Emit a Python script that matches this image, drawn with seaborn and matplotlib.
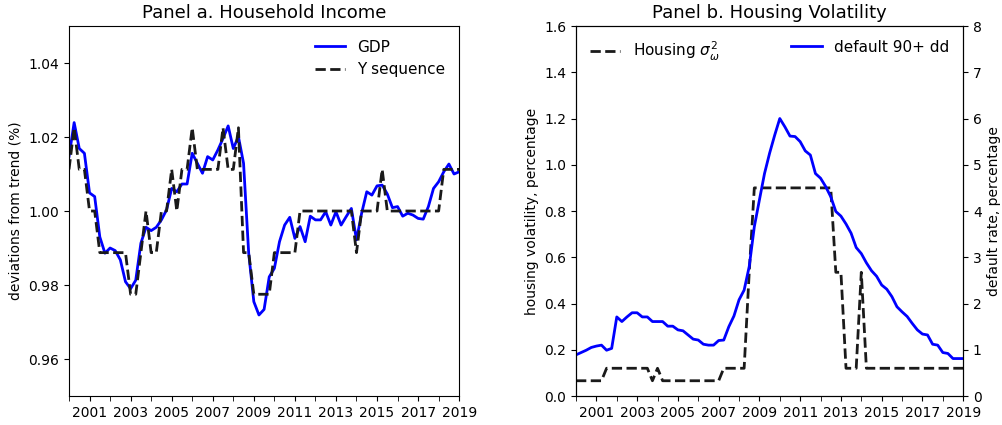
import numpy as np
import pandas as pd
import matplotlib
matplotlib.use("Agg")
import matplotlib.pyplot as plt
import seaborn as sns
from matplotlib.ticker import MultipleLocator

# quarterly sample 2000Q1 - 2019Q1
quarters = pd.period_range("2000Q1", "2019Q1", freq="Q")
year = np.asarray(quarters.year + (quarters.quarter - 1) / 4, dtype=float)

# Panel a: household income
gdp = [1.0147, 1.0239, 1.0169, 1.0156, 1.0049, 1.0039, 0.9930, 0.9886, 0.9900, 0.9893,
       0.9868, 0.9809, 0.9790, 0.9813, 0.9913, 0.9956, 0.9947, 0.9956, 0.9976, 1.0003,
       1.0061, 1.0052, 1.0073, 1.0073, 1.0156, 1.0129, 1.0102, 1.0147, 1.0138, 1.0165,
       1.0196, 1.0230, 1.0169, 1.0201, 1.0129, 0.9886, 0.9755, 0.9719, 0.9734, 0.9822,
       0.9845, 0.9917, 0.9962, 0.9983, 0.9926, 0.9958, 0.9917, 0.9986, 0.9976, 0.9976,
       0.9998, 0.9962, 0.9998, 0.9962, 0.9985, 1.0007, 0.9922, 0.9994, 1.0052, 1.0043,
       1.0068, 1.0070, 1.0046, 1.0009, 1.0012, 0.9986, 0.9994, 0.9989, 0.9980, 0.9978,
       1.0012, 1.0061, 1.0079, 1.0106, 1.0127, 1.0100, 1.0106]

y_seq = ([1.01125, 1.0225, 1.01125, 1.01125, 1.0, 1.0] + [0.98875] * 6 + [0.9775] * 2
         + [0.98875, 1.0, 0.98875, 0.98875, 1.0, 1.0, 1.01125, 1.0, 1.01125, 1.01125, 1.0225]
         + [1.01125] * 5 + [1.0225, 1.01125, 1.01125, 1.0225, 0.98875, 0.98875]
         + [0.9775] * 4 + [0.98875] * 5 + [1.0] * 11 + [0.98875] + [1.0] * 4
         + [1.01125] + [1.0] * 11 + [1.01125] * 4)

# Panel b: housing volatility (left axis) and default rate (right axis)
housing_vol = ([0.066] * 6 + [0.12] * 9 + [0.066, 0.12] + [0.066] * 12 + [0.12] * 5
               + [0.535] + [0.90] * 16 + [0.535] * 2 + [0.12] * 3 + [0.535] + [0.12] * 20)

default_90 = [0.89, 0.94, 0.99, 1.05, 1.08, 1.10, 0.99, 1.03, 1.71, 1.61,
              1.71, 1.80, 1.80, 1.71, 1.71, 1.61, 1.61, 1.61, 1.51, 1.51,
              1.43, 1.41, 1.32, 1.23, 1.21, 1.12, 1.10, 1.10, 1.20, 1.21,
              1.50, 1.73, 2.08, 2.29, 2.80, 3.66, 4.24, 4.81, 5.25, 5.64,
              6.00, 5.82, 5.62, 5.61, 5.50, 5.30, 5.21, 4.81, 4.71, 4.53,
              4.31, 3.99, 3.89, 3.72, 3.52, 3.21, 3.08, 2.88, 2.71, 2.59,
              2.40, 2.31, 2.15, 1.93, 1.82, 1.72, 1.57, 1.43, 1.34, 1.32,
              1.12, 1.10, 0.94, 0.92, 0.81, 0.81, 0.81]

dash_col = "#1a1a1a"

fig = plt.figure(figsize=(10.03, 4.25), dpi=100)
ax1 = fig.add_axes([0.0688, 0.0682, 0.389, 0.8706])
ax2 = fig.add_axes([0.5743, 0.0682, 0.386, 0.8706])

# ---- Panel a
sns.lineplot(x=year, y=gdp, ax=ax1, color="blue", lw=2, label="GDP")
sns.lineplot(x=year, y=y_seq, ax=ax1, color=dash_col, lw=2, ls="--", label="Y sequence")
ax1.set_xlim(2000, 2019)
ax1.set_ylim(0.95, 1.05)
ax1.set_yticks([0.96, 0.98, 1.00, 1.02, 1.04])
ax1.set_ylabel("deviations from trend (%)")
ax1.set_title("Panel a. Household Income", fontsize=13)
ax1.legend(loc="upper right", frameon=False, fontsize=11)

# ---- Panel b
sns.lineplot(x=year, y=housing_vol, ax=ax2, color=dash_col, lw=2, ls="--",
             label=r"Housing $\sigma^2_\omega$")
ax2r = ax2.twinx()
sns.lineplot(x=year, y=default_90, ax=ax2r, color="blue", lw=2, label="default 90+ dd")
ax2.set_xlim(2000, 2019)
ax2.set_ylim(0, 1.6)
ax2.set_yticks(np.arange(0, 1.61, 0.2))
ax2r.set_ylim(0, 8)
ax2r.set_yticks(range(0, 9))
ax2.set_ylabel("housing volatility, percentage")
ax2r.set_ylabel("default rate, percentage")
ax2.set_title("Panel b. Housing Volatility", fontsize=13)
ax2.legend(loc="upper left", frameon=False, fontsize=11)
ax2r.legend(loc="upper right", frameon=False, fontsize=11)

for ax in (ax1, ax2):
    ax.xaxis.set_major_locator(MultipleLocator(2, offset=1))
    ax.xaxis.set_minor_locator(MultipleLocator(1))
    ax.xaxis.set_major_formatter(matplotlib.ticker.FuncFormatter(lambda v, p: f"{int(round(v))}"))
    ax.tick_params(axis="x", which="minor", length=3.5)
    ax.set_xlabel("")

fig.savefig("out.png", dpi=100)
